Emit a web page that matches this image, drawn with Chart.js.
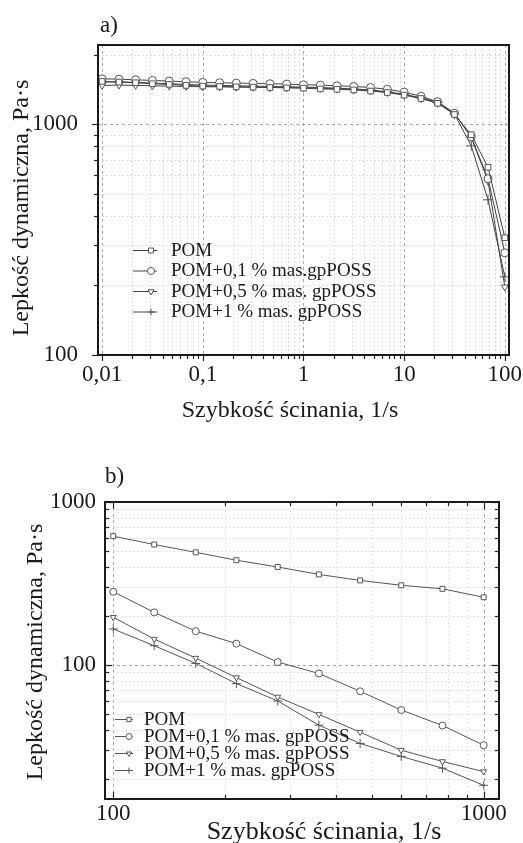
<!DOCTYPE html>
<html>
<head>
<meta charset="utf-8">
<script src="https://cdn.jsdelivr.net/npm/chart.js@4.4.1/dist/chart.umd.min.js"></script>
<style>
  html, body { margin: 0; padding: 0; background: #fff; }
  .panel { position: absolute; left: 0; width: 523px; }
  #panelA { top: 0; height: 430px; }
  #panelB { top: 430px; height: 413px; }
</style>
</head>
<body>
<div class="panel" id="panelA"><canvas id="chartA" width="523" height="430"></canvas></div>
<div class="panel" id="panelB"><canvas id="chartB" width="523" height="413"></canvas></div>
<script>
// ---- panel a) : full shear-rate range
const shearA = [0.01, 0.0147, 0.0215, 0.0316, 0.0464, 0.0681, 0.1, 0.147, 0.215, 0.316, 0.464, 0.681,
  1, 1.47, 2.15, 3.16, 4.64, 6.81, 10, 14.7, 21.5, 31.6, 46.4, 68.1, 100];
const pomA   = [1530, 1520, 1510, 1495, 1485, 1470, 1460, 1455, 1450, 1445, 1440, 1435,
  1430, 1420, 1415, 1405, 1390, 1370, 1335, 1290, 1230, 1100, 900, 650, 322];
const pom01A = [1570, 1565, 1555, 1545, 1535, 1525, 1515, 1510, 1505, 1500, 1495, 1490,
  1480, 1475, 1465, 1455, 1440, 1415, 1375, 1320, 1250, 1115, 880, 580, 277];
const pom05A = [1470, 1475, 1470, 1465, 1460, 1455, 1450, 1450, 1445, 1445, 1440, 1440,
  1435, 1430, 1420, 1410, 1395, 1375, 1340, 1295, 1240, 1115, 875, 566, 197];
const pom1A  = [1520, 1525, 1515, 1505, 1495, 1485, 1475, 1470, 1465, 1460, 1455, 1450,
  1445, 1440, 1430, 1420, 1405, 1380, 1345, 1300, 1240, 1105, 805, 470, 218];
const labelsA = ['POM', 'POM+0,1 % mas.gpPOSS', 'POM+0,5 % mas. gpPOSS', 'POM+1 % mas. gpPOSS'];
const xTicksA = [0.01, 0.1, 1, 10, 100];
const yTicksA = [100, 1000];

// ---- panel b) : high shear rates
const shearB = [100, 129, 167, 215, 278, 359, 464, 599, 774, 1000];
const pomB   = [617, 548, 491, 439, 399, 359, 330, 308, 293, 260];
const pom01B = [281, 210, 161, 135, 104, 88.5, 68.8, 52.8, 42.4, 32.1];
const pom05B = [196, 144, 110, 83.5, 63.5, 49.6, 38.6, 29.9, 25.5, 22.1];
const pom1B  = [166, 131, 102, 76.7, 60, 42.6, 32.9, 27.4, 23.2, 18.2];
const labelsB = ['POM', 'POM+0,1 % mas. gpPOSS', 'POM+0,5 % mas. gpPOSS', 'POM+1 % mas. gpPOSS'];
const xTicksB = [100, 1000];
const yTicksB = [100, 1000];

const yTitle = 'Lepkość dynamiczna, Pa·s';
const xTitle = 'Szybkość ścinania, 1/s';

const SERIF = '"Liberation Serif", "DejaVu Serif", serif';
const styles = [
  { pointStyle: 'rect', rotation: 0 },
  { pointStyle: 'circle', rotation: 0 },
  { pointStyle: 'triangle', rotation: 180 },
  { pointStyle: 'cross', rotation: 0 }
];

function makeSets(xs, series, labels, radius, lineColor) {
  return series.map((ys, i) => ({
    label: labels[i],
    data: xs.map((x, k) => ({ x: x, y: ys[k] })),
    borderColor: lineColor,
    borderWidth: 1,
    pointStyle: styles[i].pointStyle,
    rotation: styles[i].rotation,
    pointRadius: styles[i].pointStyle === 'cross' ? radius + 1 : radius,
    pointBorderColor: '#555',
    pointBackgroundColor: '#fff',
    pointBorderWidth: 1,
    tension: 0
  }));
}

function isTick(list, v) {
  return list.some(t => Math.abs(t - v) / t < 1e-6);
}

// log grid / tick positions (1..9 per decade)
function logValues(min, max) {
  const out = [];
  for (let e = Math.floor(Math.log10(min)); e <= Math.floor(Math.log10(max)); e++) {
    for (let m = 1; m <= 9; m++) {
      const v = parseFloat((m * Math.pow(10, e)).toPrecision(6));
      if (v >= min * 0.9999 && v <= max * 1.0001) out.push({ v: v, major: m === 1 });
    }
  }
  return out;
}

// grid, frame and tick marks drawn from the scales
const framePlugin = {
  id: 'frame',
  beforeDatasetsDraw(chart, args, o) {
    const { ctx, chartArea: a, scales: { x, y } } = chart;
    ctx.save();
    ctx.lineWidth = 1;
    logValues(x.min, x.max).forEach(t => {
      const px = Math.round(x.getPixelForValue(t.v)) + 0.5;
      ctx.strokeStyle = t.major ? o.majorColor : o.minorColor;
      ctx.setLineDash(t.major ? [3, 3] : [2, 2]);
      ctx.beginPath(); ctx.moveTo(px, a.top); ctx.lineTo(px, a.bottom); ctx.stroke();
    });
    logValues(y.min, y.max).forEach(t => {
      const py = Math.round(y.getPixelForValue(t.v)) + 0.5;
      ctx.strokeStyle = t.major ? o.majorColor : o.minorColor;
      ctx.setLineDash(t.major ? [3, 3] : [2, 2]);
      ctx.beginPath(); ctx.moveTo(a.left, py); ctx.lineTo(a.right, py); ctx.stroke();
    });
    ctx.restore();
  },
  afterDatasetsDraw(chart, args, o) {
    const { ctx, chartArea: a, scales: { x, y } } = chart;
    ctx.save();
    ctx.strokeStyle = '#222';
    ctx.lineWidth = 1.2;
    const d = o.inward ? 1 : -1;
    logValues(x.min, x.max).forEach(t => {
      const px = Math.round(x.getPixelForValue(t.v)) + 0.5;
      const len = t.major ? o.majorLen : o.minorLen;
      ctx.beginPath(); ctx.moveTo(px, a.bottom); ctx.lineTo(px, a.bottom - d * len); ctx.stroke();
      if (o.allSides) {
        ctx.beginPath(); ctx.moveTo(px, a.top); ctx.lineTo(px, a.top + len); ctx.stroke();
      }
    });
    logValues(y.min, y.max).forEach(t => {
      const py = Math.round(y.getPixelForValue(t.v)) + 0.5;
      const len = t.major ? o.majorLen : o.minorLen;
      ctx.beginPath(); ctx.moveTo(a.left, py); ctx.lineTo(a.left + d * len, py); ctx.stroke();
      if (o.allSides) {
        ctx.beginPath(); ctx.moveTo(a.right, py); ctx.lineTo(a.right - len, py); ctx.stroke();
      }
    });
    ctx.lineWidth = 2;
    ctx.strokeStyle = '#1a1a1a';
    ctx.strokeRect(a.left, a.top, a.width, a.height);
    ctx.restore();
  }
};

// legend + titles drawn as canvas text
const textPlugin = {
  id: 'texts',
  afterDraw(chart, args, o) {
    const ctx = chart.ctx;
    ctx.save();
    ctx.fillStyle = '#1a1a1a';
    // panel letter
    ctx.font = o.letterFont + ' ' + SERIF;
    ctx.textAlign = 'left';
    ctx.textBaseline = 'alphabetic';
    ctx.fillText(o.letter, o.letterX, o.letterY);
    // x title
    ctx.font = o.titleFont + ' ' + SERIF;
    ctx.textAlign = 'center';
    ctx.fillText(xTitle, o.xTitleX, o.xTitleY);
    // y title
    ctx.font = o.yTitleFont + ' ' + SERIF;
    ctx.translate(o.yTitleX, o.yTitleY);
    ctx.rotate(-Math.PI / 2);
    ctx.fillText(yTitle, 0, 0);
    ctx.restore();

    // legend
    const lg = o.legend;
    ctx.save();
    ctx.font = lg.font + ' ' + SERIF;
    ctx.textAlign = 'left';
    ctx.textBaseline = 'middle';
    chart.data.datasets.forEach((ds, i) => {
      const ry = lg.y0 + i * lg.dy;
      ctx.strokeStyle = ds.borderColor;
      ctx.lineWidth = 1;
      ctx.beginPath(); ctx.moveTo(lg.x0, ry + 0.5); ctx.lineTo(lg.x1, ry + 0.5); ctx.stroke();
      ctx.strokeStyle = '#555';
      ctx.fillStyle = '#fff';
      Chart.helpers.drawPoint(ctx, {
        pointStyle: ds.pointStyle, rotation: ds.rotation,
        radius: lg.r, borderWidth: 1
      }, lg.mx, ry + 0.5);
      ctx.fillStyle = '#1a1a1a';
      ctx.fillText(ds.label, lg.tx, ry + 1);
    });
    ctx.restore();
  }
};

function logAxis(min, max, ticksList, padding, fit) {
  return {
    type: 'logarithmic',
    min: min,
    max: max,
    grid: { display: false },
    border: { display: false },
    ticks: {
      autoSkip: false,
      maxRotation: 0,
      padding: padding,
      color: '#1a1a1a',
      font: { family: SERIF, size: 23 },
      callback: v => isTick(ticksList, v) ? String(v).replace('.', ',') : ''
    },
    afterFit: fit
  };
}

new Chart(document.getElementById('chartA'), {
  type: 'line',
  data: { datasets: makeSets(shearA, [pomA, pom01A, pom05A, pom1A], labelsA, 4, '#444') },
  options: {
    responsive: false,
    animation: false,
    layout: { padding: { left: 0, right: 14, top: 45, bottom: 0 } },
    scales: {
      x: logAxis(0.0091, 110, xTicksA, -2, s => { s.height = 75; }),
      y: logAxis(100, 2200, yTicksA, 12, s => { s.width = 98; })
    },
    plugins: {
      legend: { display: false },
      tooltip: { enabled: false },
      frame: { inward: false, allSides: false, majorLen: 6, minorLen: 4, majorColor: '#a8a8a8', minorColor: '#dcdcdc' },
      texts: {
        letter: 'a)', letterFont: '23px', letterX: 100, letterY: 32,
        titleFont: '24px', xTitleX: 290, xTitleY: 417,
        yTitleFont: '24px', yTitleX: 28, yTitleY: 208,
        legend: { font: '19px', y0: 250, dy: 20.5, x0: 133, x1: 157, mx: 151, r: 3.5, tx: 171 }
      }
    }
  },
  plugins: [framePlugin, textPlugin]
});

new Chart(document.getElementById('chartB'), {
  type: 'line',
  data: { datasets: makeSets(shearB, [pomB, pom01B, pom05B, pom1B], labelsB, 3.5, '#555') },
  options: {
    responsive: false,
    animation: false,
    layout: { padding: { left: 0, right: 24, top: 72, bottom: 0 } },
    scales: {
      x: logAxis(95, 1100, xTicksB, -7, s => { s.height = 44; }),
      y: logAxis(15, 1000, yTicksB, 1, s => { s.width = 105; })
    },
    plugins: {
      legend: { display: false },
      tooltip: { enabled: false },
      frame: { inward: true, allSides: true, majorLen: 7, minorLen: 4, majorColor: '#a8a8a8', minorColor: '#e2e2e2' },
      texts: {
        letter: 'b)', letterFont: '23px', letterX: 105, letterY: 53,
        titleFont: '26px', xTitleX: 324, xTitleY: 409,
        yTitleFont: '24px', yTitleX: 42, yTitleY: 222,
        legend: { font: '19px', y0: 289, dy: 17, x0: 115, x1: 133, mx: 129, r: 3, tx: 144 }
      }
    }
  },
  plugins: [framePlugin, textPlugin]
});
</script>
</body>
</html>
